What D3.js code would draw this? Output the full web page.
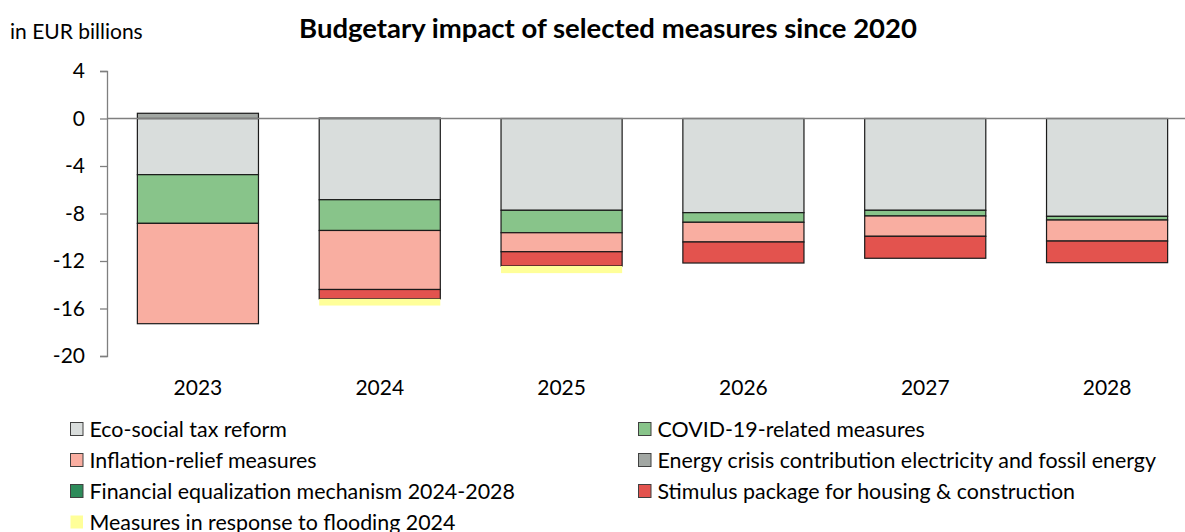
<!DOCTYPE html>
<html>
<head>
<meta charset="utf-8">
<script src="https://cdn.jsdelivr.net/npm/d3@7"></script>
<style>
  body { margin: 0; background: #fff; }
  svg text { font-family: Lato, "Liberation Sans", sans-serif; fill: #000; }
</style>
</head>
<body>
<svg id="chart" width="1185" height="532"></svg>
<script>
'use strict';

const YEARS = ["2023", "2024", "2025", "2026", "2027", "2028"];
const SERIES = [
  "Eco-social tax reform",
  "COVID-19-related measures",
  "Inflation-relief measures",
  "Energy crisis contribution electricity and fossil energy",
  "Financial equalization mechanism 2024-2028",
  "Stimulus package for housing & construction",
  "Measures in response to flooding 2024"
];
const ECO_SOCIAL = [-4.73, -6.84, -7.73, -7.93, -7.73, -8.24];
const COVID = [-4.10, -2.59, -1.89, -0.81, -0.48, -0.31];
const INFLATION = [-8.45, -4.97, -1.60, -1.66, -1.71, -1.77];
const ENERGY_CRISIS = [0.44, 0.03, 0, 0, 0, 0];
const FIN_EQUALIZATION = [0, 0, 0, 0, 0, 0];
const STIMULUS = [0, -0.79, -1.20, -1.77, -1.85, -1.82];
const FLOODING = [0, -0.56, -0.60, 0, 0, 0];
const Y_TICKS = [4, 0, -4, -8, -12, -16, -20];

const COLORS = ["#d9dddc", "#88c48a", "#f9aea1", "#a2a7a3", "#2e8b5a", "#e3534e", "#ffff99"];
const NO_STROKE = [false, false, false, false, false, false, true];

const MARGIN_LEFT = 107;
const PLOT_RIGHT = 1198;
const Y_TOP = 71;
const Y_BOTTOM = 356;

const values = [ECO_SOCIAL, COVID, INFLATION, ENERGY_CRISIS, FIN_EQUALIZATION, STIMULUS, FLOODING];
const svg = d3.select("#chart");

const x = d3.scaleBand().domain(YEARS).range([MARGIN_LEFT, PLOT_RIGHT])
  .paddingInner(0.334).paddingOuter(0.167);
const y = d3.scaleLinear().domain([-20, 4]).range([Y_BOTTOM, Y_TOP]);

// stack positives upwards, negatives downwards, in series order
const rects = [];
YEARS.forEach((yr, j) => {
  let pos = 0, neg = 0;
  values.forEach((arr, i) => {
    const v = arr[j];
    if (!v) return;
    let y0, y1;
    if (v > 0) { y0 = pos; y1 = pos + v; pos = y1; }
    else { y0 = neg; y1 = neg + v; neg = y1; }
    rects.push({ yr, i, y0, y1 });
  });
});

svg.append("g").selectAll("rect")
  .data(rects)
  .enter()
  .append("rect")
  .attr("x", d => x(d.yr))
  .attr("width", x.bandwidth())
  .attr("y", d => y(Math.max(d.y0, d.y1)))
  .attr("height", d => Math.abs(y(d.y0) - y(d.y1)))
  .attr("fill", d => COLORS[d.i])
  .attr("stroke", d => NO_STROKE[d.i] ? "none" : "#1a1a1a")
  .attr("stroke-width", 1.2);

// zero line
svg.append("line")
  .attr("x1", MARGIN_LEFT).attr("x2", 1185)
  .attr("y1", y(0)).attr("y2", y(0))
  .attr("stroke", "#7f7f7f").attr("stroke-width", 1.3);

// y axis
const yAxis = svg.append("g")
  .attr("transform", `translate(${MARGIN_LEFT},0)`)
  .call(d3.axisLeft(y).tickValues(Y_TICKS).tickFormat(d => String(d))
    .tickSize(7).tickPadding(15).tickSizeOuter(7));
yAxis.select(".domain").attr("stroke", "#7f7f7f").attr("stroke-width", 1.3);
yAxis.selectAll(".tick line").attr("stroke", "#7f7f7f").attr("stroke-width", 1.3);
yAxis.selectAll(".tick text").style("font-size", "21px").style("font-family", "Lato, sans-serif");

// x labels
svg.append("g").selectAll("text")
  .data(YEARS)
  .enter()
  .append("text")
  .attr("x", d => x(d) + x.bandwidth() / 2)
  .attr("y", 395)
  .attr("text-anchor", "middle")
  .style("font-size", "21px")
  .text(d => d);

// title + unit
svg.append("text")
  .attr("x", 608).attr("y", 38)
  .attr("text-anchor", "middle")
  .style("font-size", "27.5px").style("font-weight", "bold")
  .text("Budgetary impact of selected measures since 2020");
svg.append("text")
  .attr("x", 10).attr("y", 39)
  .style("font-size", "21px")
  .text("in EUR billions");

// legend, two columns, row-wise
const LEG_X = [70.5, 638.5];
const LEG_Y0 = 429;
const LEG_DY = 31;
const legend = svg.append("g").selectAll("g")
  .data(SERIES)
  .enter()
  .append("g")
  .attr("transform", (d, i) => `translate(${LEG_X[i % 2]},${LEG_Y0 + Math.floor(i / 2) * LEG_DY})`);
legend.append("rect")
  .attr("x", 0).attr("y", -6.5).attr("width", 12.5).attr("height", 13)
  .attr("fill", (d, i) => COLORS[i])
  .attr("stroke", (d, i) => NO_STROKE[i] ? "none" : "#404040")
  .attr("stroke-width", 1);
legend.append("text")
  .attr("x", 19).attr("y", 7.5)
  .style("font-size", "21.4px")
  .text(d => d);
</script>
</body>
</html>
